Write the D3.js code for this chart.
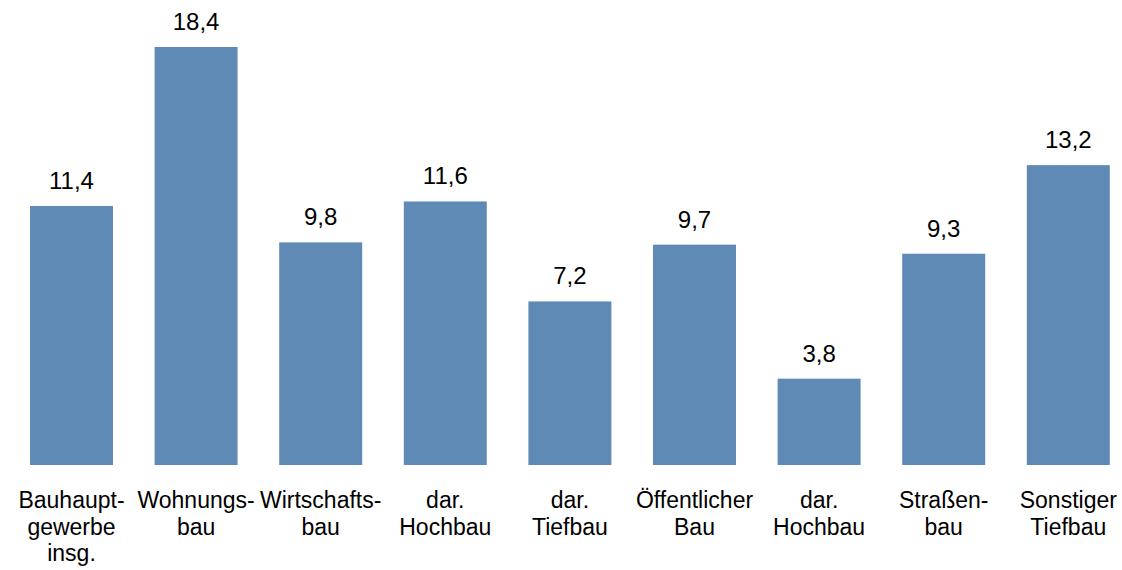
<!DOCTYPE html>
<html>
<head>
<meta charset="utf-8">
<script src="https://cdn.jsdelivr.net/npm/d3@7"></script>
<style>
  body { margin: 0; background: #fff; }
  text { font-family: "Liberation Sans", Arial, sans-serif; fill: #000; }
</style>
</head>
<body>
<div id="chart"></div>
<script>
// data
var categories = [
    ["Bauhaupt-", "gewerbe", "insg."],
    ["Wohnungs-", "bau"],
    ["Wirtschafts-", "bau"],
    ["dar.", "Hochbau"],
    ["dar.", "Tiefbau"],
    ["Öffentlicher", "Bau"],
    ["dar.", "Hochbau"],
    ["Straßen-", "bau"],
    ["Sonstiger", "Tiefbau"]
];
var values = [11.4, 18.4, 9.8, 11.6, 7.2, 9.7, 3.8, 9.3, 13.2];
var valueLabels = ["11,4", "18,4", "9,8", "11,6", "7,2", "9,7", "3,8", "9,3", "13,2"];

var width = 1122;
var height = 570;
var baseline = 465;

var svg = d3.select("#chart")
    .append("svg")
    .attr("width", width)
    .attr("height", height);

var idx = d3.range(values.length);

var xScale = d3.scaleBand()
    .domain(idx)
    .range([9.2, 1130.6])
    .paddingInner(0.334)
    .paddingOuter(0.167);

var yScale = d3.scaleLinear()
    .domain([0, 18.4])
    .range([baseline, 47]);

// bars
svg.selectAll("rect.bar")
    .data(idx)
    .enter()
    .append("rect")
    .attr("class", "bar")
    .attr("x", function (i) { return xScale(i); })
    .attr("y", function (i) { return yScale(values[i]); })
    .attr("width", xScale.bandwidth())
    .attr("height", function (i) { return yScale(0) - yScale(values[i]); })
    .attr("fill", "#5f8ab5");

// value labels
svg.selectAll("text.value")
    .data(idx)
    .enter()
    .append("text")
    .attr("class", "value")
    .attr("x", function (i) { return xScale(i) + xScale.bandwidth() / 2; })
    .attr("y", function (i) { return yScale(values[i]) - 17; })
    .attr("text-anchor", "middle")
    .attr("font-size", 24)
    .text(function (i) { return valueLabels[i]; });

// category labels
var catText = svg.selectAll("text.cat")
    .data(idx)
    .enter()
    .append("text")
    .attr("class", "cat")
    .attr("text-anchor", "middle")
    .attr("font-size", 23)
    .attr("y", 508);

catText.selectAll("tspan")
    .data(function (i) {
        return categories[i].map(function (line) {
            return { line: line, x: xScale(i) + xScale.bandwidth() / 2 };
        });
    })
    .enter()
    .append("tspan")
    .attr("x", function (d) { return d.x; })
    .attr("dy", function (d, j) { return j === 0 ? 0 : 26.5; })
    .text(function (d) { return d.line; });
</script>
</body>
</html>
